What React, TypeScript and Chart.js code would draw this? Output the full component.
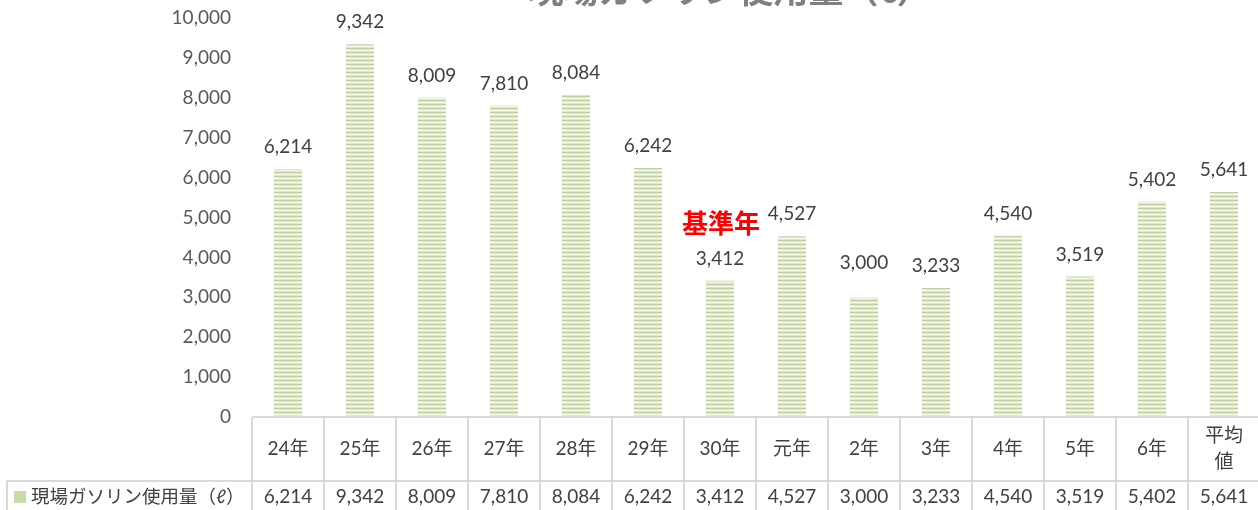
import React, { useEffect, useRef } from "react";
import { Chart, registerables } from "chart.js";

Chart.register(...registerables);

const chartTitle = "現場ガソリン使用量（ℓ）";
const seriesName = "現場ガソリン使用量（ℓ）";
const categories: (string | string[])[] = [
  "24年", "25年", "26年", "27年", "28年", "29年", "30年",
  "元年", "2年", "3年", "4年", "5年", "6年", ["平均", "値"],
];
const values = [6214, 9342, 8009, 7810, 8084, 6242, 3412, 4527, 3000, 3233, 4540, 3519, 5402, 5641];
const yMin = 0;
const yMax = 10000;
const yStep = 1000;
const baseYearNote = "基準年";
const baseYearIndex = 6;
// label of 2年 was moved up manually in the original
const labelLift: Record<number, number> = { 8: 12 };

const FONT = "Lato, 'Noto Sans CJK JP', sans-serif";
const CJK = "'Noto Sans CJK JP', sans-serif";
const fmt = (v: number) => v.toLocaleString("en-US");

export default function App() {
  const ref = useRef<HTMLCanvasElement>(null);

  useEffect(() => {
    document.body.style.margin = "0";
    const canvas = ref.current!;
    const pc = document.createElement("canvas");
    pc.width = 4;
    pc.height = 4;
    const pctx = pc.getContext("2d")!;
    const rows = ["#c2d59f", "#dbe7c8", "#f4f8ee", "#dbe7c8"];
    rows.forEach((c, i) => {
      pctx.fillStyle = c;
      pctx.fillRect(0, i, 4, 1);
    });
    const pattern = canvas.getContext("2d")!.createPattern(pc, "repeat")!;

    const overlay = {
      id: "overlay",
      afterDatasetsDraw(chart: any) {
        const ctx = chart.ctx as CanvasRenderingContext2D;
        const meta = chart.getDatasetMeta(0);
        ctx.save();
        ctx.font = `19px ${FONT}`;
        ctx.fillStyle = "#404040";
        ctx.textAlign = "center";
        ctx.textBaseline = "middle";
        meta.data.forEach((bar: any, i: number) => {
          ctx.fillText(fmt(values[i]), bar.x, bar.y - 22 - (labelLift[i] || 0));
        });
        // 基準年 annotation
        const xs = chart.scales.x;
        const ys = chart.scales.y;
        const ax = xs.getPixelForValue(baseYearIndex) + 1;
        const ay = ys.getPixelForValue(values[baseYearIndex]) - 58;
        ctx.font = `bold 26px ${CJK}`;
        ctx.fillStyle = "#ff0000";
        ctx.fillText(baseYearNote, ax, ay);
        ctx.restore();
      },
      afterDraw(chart: any) {
        const ctx = chart.ctx as CanvasRenderingContext2D;
        const area = chart.chartArea;
        const xs = chart.scales.x;
        const n = categories.length;
        const cw = (xs.right - xs.left) / n;
        const top = area.bottom;
        const mid = top + 64;
        const bottom = chart.height;
        ctx.save();
        // title (cut off at the top)
        ctx.font = `bold 35px ${CJK}`;
        ctx.fillStyle = "#7f7f7f";
        ctx.textAlign = "center";
        ctx.textBaseline = "alphabetic";
        ctx.fillText(chartTitle, 730, 3);

        // table lines
        ctx.strokeStyle = "#d9d9d9";
        ctx.lineWidth = 2;
        ctx.beginPath();
        ctx.moveTo(xs.left, top);
        ctx.lineTo(xs.right, top);
        ctx.moveTo(7, mid);
        ctx.lineTo(xs.right, mid);
        for (let i = 0; i <= n; i++) {
          const x = xs.left + i * cw;
          ctx.moveTo(x, top);
          ctx.lineTo(x, bottom);
        }
        ctx.moveTo(7, mid);
        ctx.lineTo(7, bottom);
        ctx.stroke();

        // category labels
        ctx.font = `19px ${FONT}`;
        ctx.fillStyle = "#404040";
        ctx.textBaseline = "middle";
        const catY = (top + mid) / 2;
        categories.forEach((c, i) => {
          const x = xs.getPixelForValue(i);
          if (Array.isArray(c)) {
            const lh = 26;
            c.forEach((line, k) => {
              ctx.fillText(line, x, catY + (k - (c.length - 1) / 2) * lh);
            });
          } else {
            ctx.fillText(c, x, catY);
          }
          ctx.fillText(fmt(values[i]), x, mid + 16);
        });

        // legend cell
        ctx.fillStyle = "#c8daa9";
        ctx.fillRect(14, mid + 10, 12, 12);
        ctx.fillStyle = "#404040";
        ctx.textAlign = "left";
        ctx.font = `18.5px ${FONT}`;
        ctx.fillText(seriesName, 31, mid + 16);
        ctx.restore();
      },
    };

    const chart = new Chart(canvas, {
      type: "bar",
      data: {
        labels: categories as any,
        datasets: [
          {
            label: seriesName,
            data: values,
            backgroundColor: pattern as any,
            borderWidth: 0,
            barPercentage: 0.39,
            categoryPercentage: 1,
          },
        ],
      },
      options: {
        responsive: false,
        animation: false,
        devicePixelRatio: 1,
        layout: { padding: { top: 18, bottom: 93, left: 0, right: 0 } },
        plugins: {
          legend: { display: false },
          title: { display: false },
          tooltip: { enabled: false },
        },
        scales: {
          x: { display: false, offset: true },
          y: {
            min: yMin,
            max: yMax,
            ticks: {
              stepSize: yStep,
              padding: 21,
              color: "#595959",
              font: { family: FONT, size: 19 },
              callback: (v: any) => fmt(Number(v)),
            },
            grid: { display: false, drawTicks: false },
            border: { display: false },
            afterFit: (s: any) => {
              s.width = 252;
              s.paddingTop = 0;
              s.paddingBottom = 0;
            },
          },
        },
      },
      plugins: [overlay],
    });
    return () => chart.destroy();
  }, []);

  return (
    <div style={{ width: 1258, height: 510, overflow: "hidden" }}>
      <canvas ref={ref} width={1260} height={510} style={{ display: "block" }} />
    </div>
  );
}
